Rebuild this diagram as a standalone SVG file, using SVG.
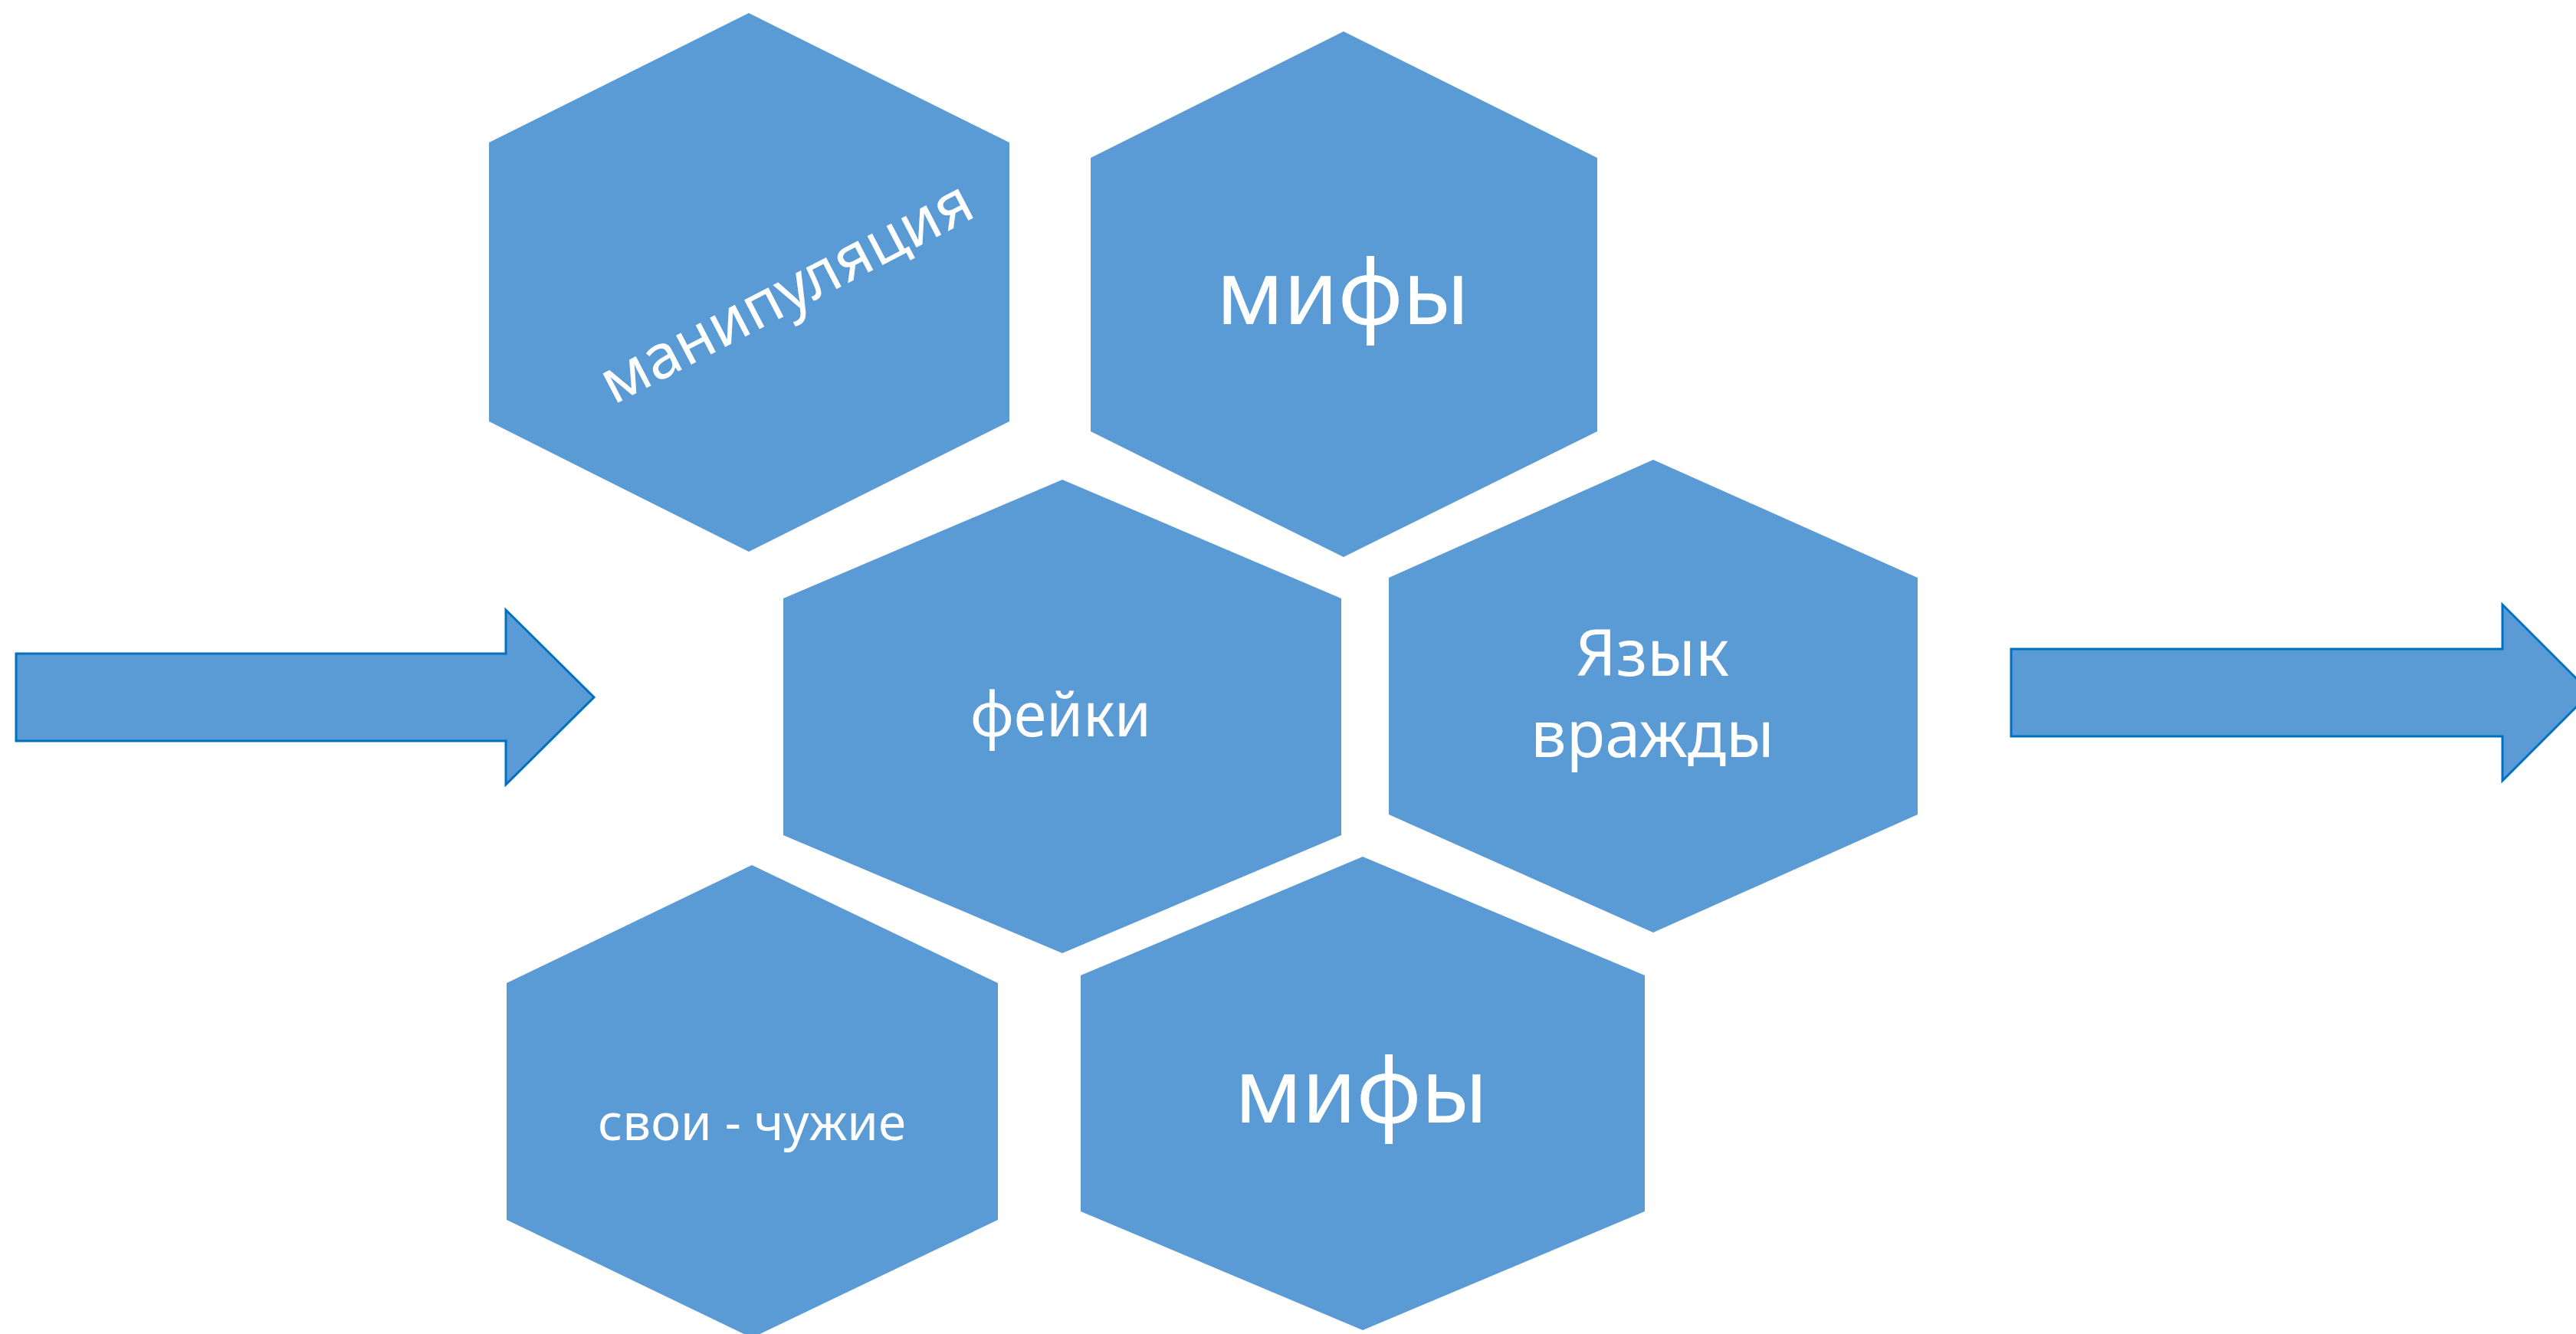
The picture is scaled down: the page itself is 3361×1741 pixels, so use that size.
<svg xmlns="http://www.w3.org/2000/svg" width="3361" height="1741" viewBox="0 0 3361 1741">
<style>
.hex{fill:#5B9BD5;}
.arrow{fill:#5B9BD5;stroke:#0070C0;stroke-width:3;stroke-linejoin:miter;}
.lbl{fill:#FFFFFF;font-family:"Noto Sans","Open Sans","DejaVu Sans",sans-serif;text-anchor:middle;}
</style>
<rect width="3361" height="1741" fill="#FFFFFF"/>
<g id="arrows">
<polygon class="arrow" points="21,853 660,853 660,796 775,910 660,1024 660,967 21,967"/>
<polygon class="arrow" points="2624,847 3265,847 3265,789 3380,904 3265,1019 3265,961 2624,961"/>
</g>
<g id="node-manipulation">
<polygon class="hex" points="977,17 1317,186 1317,550 977,720 638,550 638,186"/>
<text class="lbl" x="1038" y="405" font-size="80" textLength="536" lengthAdjust="spacingAndGlyphs" transform="rotate(-27.5 1038 405)">манипуляция</text>
</g>
<g id="node-myths-top">
<polygon class="hex" points="1753,41 2084,206 2084,563 1753,727 1423,563 1423,206"/>
<text class="lbl" x="1752" y="423" font-size="117" textLength="330" lengthAdjust="spacingAndGlyphs">мифы</text>
</g>
<g id="node-fakes">
<polygon class="hex" points="1386,626 1750,781 1750,1090 1386,1244 1022,1090 1022,781"/>
<text class="lbl" x="1384" y="961" font-size="80" textLength="236" lengthAdjust="spacingAndGlyphs">фейки</text>
</g>
<g id="node-hate-speech">
<polygon class="hex" points="2157,600 2502,754 2502,1063 2157,1217 1812,1063 1812,754"/>
<text class="lbl" x="2156" y="882" font-size="84" textLength="200" lengthAdjust="spacingAndGlyphs">Язык</text>
<text class="lbl" x="2156" y="988" font-size="84" textLength="318" lengthAdjust="spacingAndGlyphs">вражды</text>
</g>
<g id="node-us-them">
<polygon class="hex" points="981,1129 1302,1283 1302,1592 981,1746 661,1592 661,1283"/>
<text class="lbl" x="981" y="1488" font-size="65" textLength="402" lengthAdjust="spacingAndGlyphs">свои - чужие</text>
</g>
<g id="node-myths-bottom">
<polygon class="hex" points="1778,1118 2146,1273 2146,1581 1778,1736 1410,1581 1410,1273"/>
<text class="lbl" x="1776" y="1465" font-size="117" textLength="330" lengthAdjust="spacingAndGlyphs">мифы</text>
</g>
</svg>
